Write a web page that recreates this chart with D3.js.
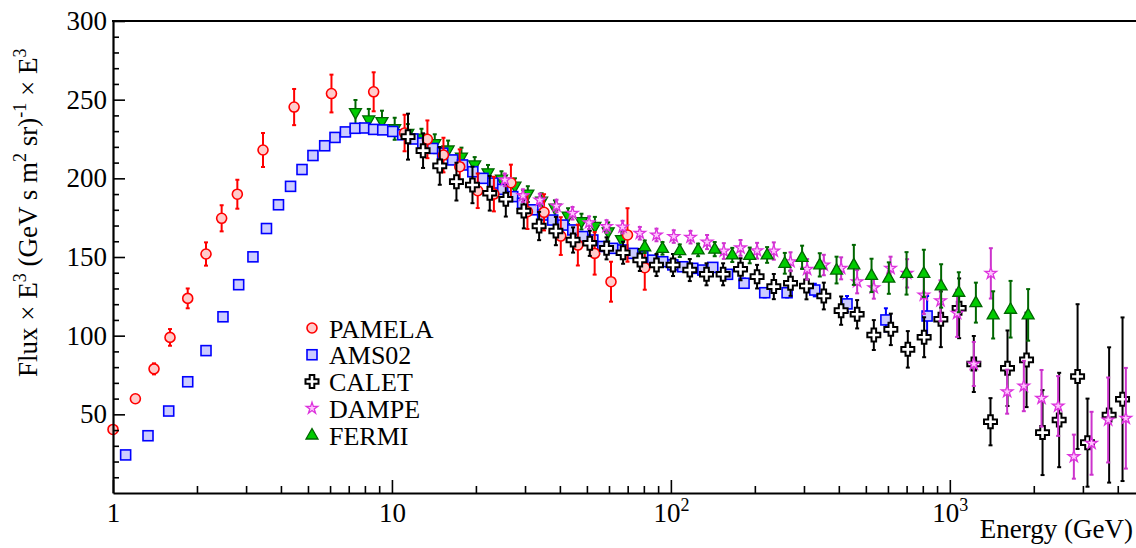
<!DOCTYPE html>
<html><head><meta charset="utf-8">
<script src="https://cdn.jsdelivr.net/npm/d3@7"></script>
<style>
body{margin:0;background:#fff;}
</style>
</head><body>
<svg id="c" width="1136" height="548"></svg>
<script>
// ---------------- data ----------------
const pamelaE=[1.0,1.203,1.403,1.601,1.853,2.155,2.452,2.791,3.45,4.46,6.07,8.6,11.1,13.4,15.3,17.5,20.3,23.2,26.7,30.6,35.1,40.3,46.4,53.3,61.0,69.9,80.6];
const pamelaFlux=[40.4,59.9,78.9,98.9,123.7,151.9,174.6,189.9,218,245.3,253.9,255,228.8,224.8,214.8,207.4,192.1,190,197.2,178.8,178.4,163.3,157.6,152.3,134.3,164,143.2];
const pamelaErr=[0.8,1.5,3.5,5.3,6.3,7.4,8.3,9.2,10.8,11.5,12,12.4,11.6,12,11,11,11,11,11.5,11,11.5,12,13,13.5,12.7,17,14];

const amsE=[1.11,1.335,1.584,1.853,2.155,2.479,2.822,3.175,3.55,3.92,4.33,4.76,5.21,5.74,6.25,6.81,7.38,7.99,8.6,9.27,10.07,10.93,11.88,12.9,14.0,15.2,16.5,17.9,19.5,21.2,23.0,24.96,27.1,29.4,32.0,34.7,37.7,41.0,44.5,48.3,52.5,57.0,61.9,67.2,73.0,79.3,86.1,93.5,101.6,110.3,119.8,130.2,141.3,159.6,183,217,261,328,428,590,829];
const amsFlux=[24.2,36.4,52.1,70.7,90.5,112,132.4,150.1,168.1,183.2,194.9,205.6,214.5,220.7,226,229.5,231.8,232,231.1,230.8,229.8,227.7,225,222.4,219,216,211.7,208.5,204.2,200,197,193,188.4,184.2,180,176.7,173.5,170.3,167.2,163,160.8,156.7,155.5,154.5,152.3,150.2,148,147,145,143.8,142.8,141.7,143.4,139,133.3,127.3,127.3,129,120.2,110,112.5];
const amsErr=[0,0,0,0,0,0,0,0,0,0,0,0,0,0,0,0,0,0,0,0,0,0,0,0,0,0,0,0,0,0,0,0,0,0,0,0,0,0,0,0,0,0,0,0,0,0,0,0,0,0,0,0,2,2.5,3,3,3,4,5,7.4,12.7];

const caletE=[11.42,12.93,14.84,17.03,19.44,22.42,25.6,29.7,33.7,38.7,44.6,51.2,58.8,67.4,77.4,88.8,101.8,116.9,134.2,153.9,177.7,203.7,233.9,268.5,306.3,353.4,407.7,465.3,534,614.5,707,809,928.5,1080,1219,1399,1610,1884,2150,2466,2871,3116,3725,4161];
const caletFlux=[226.5,217.6,207.9,197.9,195.8,190.5,186.7,179.2,169.7,166.5,160.8,158.7,155.5,152.7,148.1,144.9,144.9,141.7,139,139,142.2,137.5,131.2,133.3,131.6,125.2,115.9,113.6,100.4,104,91.3,99,110.4,117.4,82,45.3,79.3,84.6,38.4,46.4,74,32,49.6,59.6];
const caletErr=[14.6,11,12,12,11.6,11,11,11,9,9,8,8,7,7,7,7,7,7,7,7,7,7.5,8,8,8.5,8.5,9,9,9.5,10,11.6,12.7,17.7,19,17.8,15,24,30,27,30,46,28,43,52];

const dampeE=[25.4,29.5,33.9,38.9,44.4,50.9,58.8,67.1,77.4,88.8,102.4,117.6,134.8,154.8,177.7,203.7,233.9,268.5,307.9,353.4,407.7,465.3,534,613,703,807,926,1062,1219,1403,1605,1842,2132,2445,2784,3222,3695,4276];
const dampeFlux=[199,189,186.2,182.4,177.8,171.8,169.4,169,165.1,164,163,162.6,159.5,153.8,155.8,154,153.8,147,142.2,144.9,142.8,134.3,130.5,142.8,139.6,125.8,122.2,114.2,82,139.6,64.4,68,60.2,55.3,23.1,31.6,46.4,47.5];
const dampeErr=[4,4,4,4,4,4,4,4,4,4,4,4,4.5,5,5,5,5.5,6,6.5,6.5,7,7.4,7,7.4,9,12,13,15,14,16,14,16,18,19,14,20,27,32];

// FERMI low-energy points (drawn as inverted triangles)
const fermiLowE=[7.40,8.26,9.21,10.23,11.4,12.76,14.24,15.9,17.75,19.8,22.1,24.7,27.6,30.7,34.4,38.4,42.8,47.8,53.4,59.6,66.5];
const fermiLowFlux=[241.8,237.1,236,231.5,228.5,225.5,222,218,213.5,208.5,203.5,199.5,195,190,185.5,181,176,172.5,169.5,166,161];
const fermiLowErr=[8,7,7,7,6,6,6,6,6,5,5,5,5,5,5,5,5,5,6,6,6];
// FERMI high-energy points (upright triangles)
const fermiE=[80.6,93.3,107.6,125.2,143.6,166,191.7,221.3,256.1,295.4,341.8,392.6,452.8,524,604.4,699.6,807,930.8,1077,1240,1430,1651,1909];
const fermiFlux=[156.5,155.5,154,154.5,155,151.3,151,151.3,146,149.8,145,141.7,145,138.3,136.6,139.6,139.6,131.6,127.6,121,113.2,116.8,113.2];
const fermiErr=[4,4,4,4,4.5,4.5,5,5,6.6,7.4,7.4,8.5,12.7,10.6,10,13.5,15,13.8,12.7,12.7,15,18,16.4];

const yTickValues=[50,100,150,200,250,300];
const yMinorValues=d3.range(10,300,10);
const xTickValues=[1,10,100,1000];
const xMinorValues=[2,3,4,5,6,7,8,9,20,30,40,50,60,70,80,90,200,300,400,500,600,700,800,900,2000,3000,4000];
const legendLabels=["PAMELA","AMS02","CALET","DAMPE","FERMI"];

// ---------------- chart ----------------
const FONT="'Liberation Serif', 'DejaVu Serif', 'Noto Serif', 'FreeSerif', 'Times New Roman', serif";
const svg=d3.select("#c");
const x=d3.scaleLog().domain([1,4650]).range([113,1136]);
const y=d3.scaleLinear().domain([0,300]).range([493,21]);
const FS=27;

const crossPath=(()=>{const h=6.5,w=2.3;return `M${-w},${-h}L${w},${-h}L${w},${-w}L${h},${-w}L${h},${w}L${w},${w}L${w},${h}L${-w},${h}L${-w},${w}L${-h},${w}L${-h},${-w}L${-w},${-w}Z`;})();
const starPath=d3.symbol(d3.symbolStar,42)();
const triUp="M0,-6.5L6,4L-6,4Z";
const triDown="M0,6.5L6,-4L-6,-4Z";

const styles={
  PAMELA:{shape:"circle",stroke:"#ff0000",fill:"#ffcccc",bar:"#ff0000",sw:1.6},
  AMS02:{shape:"square",stroke:"#0000ff",fill:"#ccccff",bar:"#0000ff",sw:1.6},
  CALET:{shape:"cross",stroke:"#000000",fill:"#ffffff",bar:"#000000",sw:2},
  DAMPE:{shape:"star",stroke:"#dd33dd",fill:"#ffc4ff",bar:"#cc33cc",sw:1.3},
  FERMI:{shape:"up",stroke:"#006600",fill:"#00cc00",bar:"#006600",sw:1.3},
  FERMIlow:{shape:"down",stroke:"#006600",fill:"#00cc00",bar:"#006600",sw:1.3}
};

function marker(g,st,cx,cy){
  let m;
  if(st.shape==="circle") m=g.append("circle").attr("cx",cx).attr("cy",cy).attr("r",5);
  else if(st.shape==="square") m=g.append("rect").attr("x",cx-5).attr("y",cy-5).attr("width",10).attr("height",10);
  else {
    const d=st.shape==="cross"?crossPath:st.shape==="star"?starPath:st.shape==="up"?triUp:triDown;
    m=g.append("path").attr("d",d).attr("transform",`translate(${cx},${cy})`);
  }
  m.attr("fill",st.fill).attr("stroke",st.stroke).attr("stroke-width",st.sw).attr("stroke-linejoin","miter");
}

function series(E,F,Err,st){
  const g=svg.append("g");
  E.forEach((e,i)=>{
    const err=Err[i];
    if(err>0){
      const cx=x(e), y1=y(Math.max(0,F[i]-err)), y2=y(F[i]+err);
      g.append("line").attr("x1",cx).attr("x2",cx).attr("y1",y1).attr("y2",y2).attr("stroke",st.bar).attr("stroke-width",2);
      g.append("line").attr("x1",cx-2).attr("x2",cx+2).attr("y1",y2).attr("y2",y2).attr("stroke",st.bar).attr("stroke-width",2);
      if(F[i]-err>0) g.append("line").attr("x1",cx-2).attr("x2",cx+2).attr("y1",y1).attr("y2",y1).attr("stroke",st.bar).attr("stroke-width",2);
    }
  });
  E.forEach((e,i)=>marker(g,st,x(e),y(F[i])));
}

series(fermiLowE,fermiLowFlux,fermiLowErr,styles.FERMIlow);
series(amsE,amsFlux,amsErr,styles.AMS02);
series(pamelaE,pamelaFlux,pamelaErr,styles.PAMELA);
series(caletE,caletFlux,caletErr,styles.CALET);
series(dampeE,dampeFlux,dampeErr,styles.DAMPE);
series(fermiE,fermiFlux,fermiErr,styles.FERMI);

// axes
const yAx=svg.append("g").attr("transform","translate(113,0)")
  .call(d3.axisLeft(y).tickValues(yTickValues).tickSizeInner(-12).tickSizeOuter(0).tickPadding(7).tickFormat(d3.format("d")));
svg.append("g").attr("transform","translate(113,0)")
  .call(d3.axisLeft(y).tickValues(yMinorValues.filter(v=>v%50!==0)).tickSizeInner(-6).tickSizeOuter(0).tickFormat(""))
  .select(".domain").remove();
const xAx=svg.append("g").attr("transform","translate(0,493)")
  .call(d3.axisBottom(x).tickValues(xTickValues).tickSizeInner(-13).tickSizeOuter(0).tickPadding(0).tickFormat(d=>d));
svg.append("g").attr("transform","translate(0,493)")
  .call(d3.axisBottom(x).tickValues(xMinorValues).tickSizeInner(-7).tickSizeOuter(0).tickFormat(""))
  .select(".domain").remove();

svg.selectAll(".domain").attr("stroke","#000").attr("stroke-width",2.2);
svg.selectAll(".tick line").attr("stroke","#000").attr("stroke-width",1.6);
yAx.selectAll(".tick text").attr("font-size",FS).attr("x",-6);
xAx.selectAll(".tick text").each(function(d){
  const t=d3.select(this);
  t.text(null).attr("font-size",FS).attr("y",29).attr("dy",null);
  const e=Math.round(Math.log10(d));
  if(e<=1) t.text(d);
  else { t.append("tspan").text("10"); t.append("tspan").attr("dy",-11).attr("font-size",18).text(e); }
});
svg.append("line").attr("x1",112).attr("x2",1136).attr("y1",y(300)).attr("y2",y(300)).attr("stroke","#000").attr("stroke-width",2.2);

// axis titles
svg.append("text").attr("x",1133).attr("y",538).attr("text-anchor","end").attr("font-size",FS).text("Energy (GeV)");
const yt=svg.append("text").attr("transform","translate(37,377) rotate(-90)").attr("text-anchor","start").attr("font-size",FS);
const parts=[["Flux × E",0],["3",1],[" (GeV s m",0],["2",1],[" sr)",0],["-1",1],[" × E",0],["3",1]];
let up=false;
parts.forEach(([s,sup])=>{
  const ts=yt.append("tspan").text(s);
  if(sup){ts.attr("font-size",18).attr("dy",up?0:-11);up=true;}
  else {ts.attr("dy",up?11:0);up=false;}
});

// legend
const lg=svg.append("g");
legendLabels.forEach((name,i)=>{
  const cy=328+i*26.75;
  marker(lg,styles[name],312,cy);
  lg.append("text").attr("x",329).attr("y",cy+9.5).attr("font-size",26).text(name);
});

// font for every text, set inline
svg.selectAll("g").attr("font-family",null);
svg.selectAll("text").style("font-family",FONT).attr("fill","#000");
</script>
</body></html>
